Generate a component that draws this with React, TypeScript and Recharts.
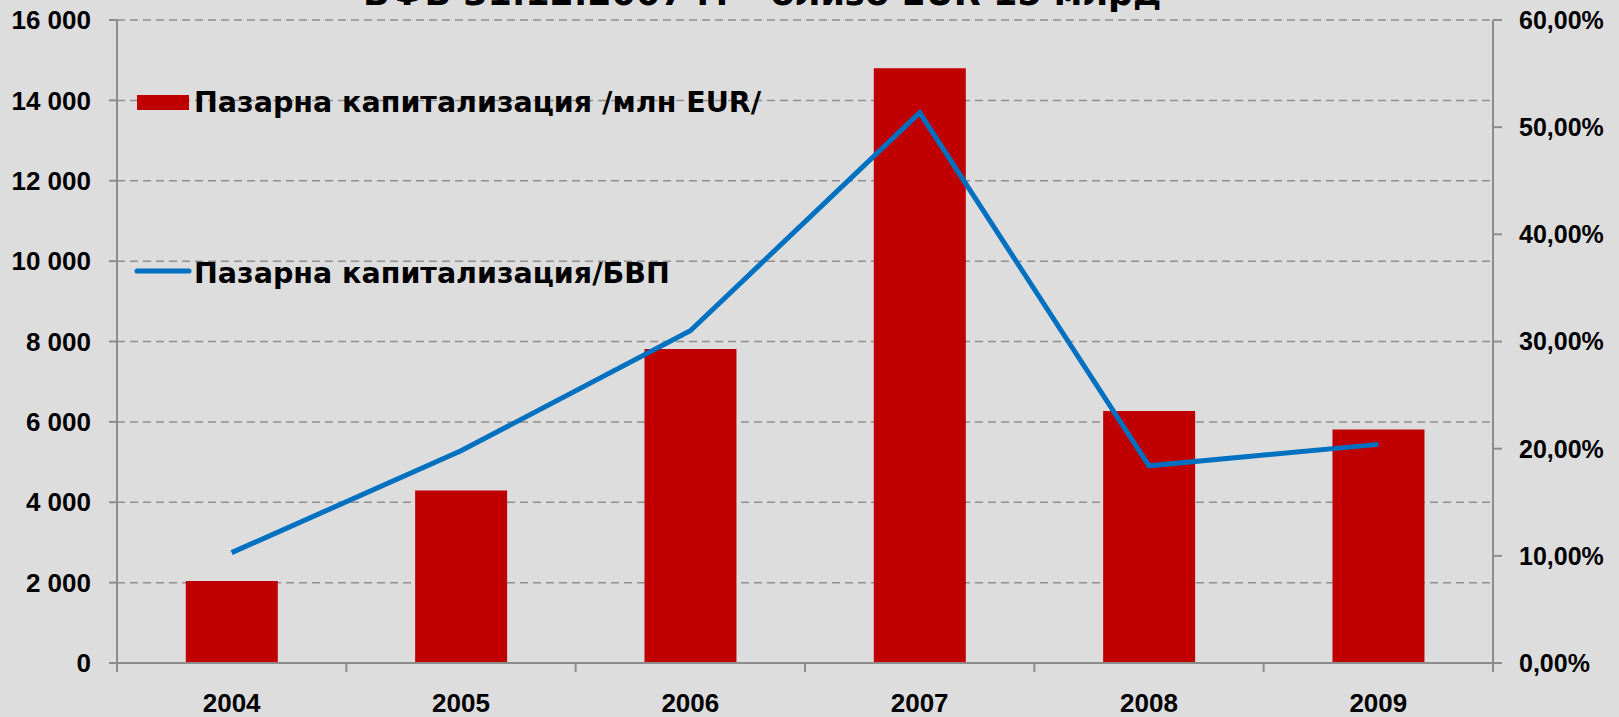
import React from 'react';
import { ComposedChart, Bar, Line, XAxis, YAxis, CartesianGrid } from 'recharts';

const YEARS = ['2004', '2005', '2006', '2007', '2008', '2009'];
const MARKET_CAP = [2040, 4295, 7815, 14800, 6270, 5810];
const CAP_TO_GDP = [0.103, 0.198, 0.31, 0.5135, 0.184, 0.204];
const LEFT_TICKS = [0, 2000, 4000, 6000, 8000, 10000, 12000, 14000, 16000];
const RIGHT_TICKS = [0, 0.1, 0.2, 0.3, 0.4, 0.5, 0.6];

const TITLE = 'БФБ 31.12.2007 г. – близо EUR 15 млрд';
const BAR_NAME = 'Пазарна капитализация /млн EUR/';
const LINE_NAME = 'Пазарна капитализация/БВП';

const RED = '#c00000';
const BLUE = '#0070c0';
const AXIS = '#8c8c8c';
const BG = '#dddddd';

const W = 1619;
const H = 717;
const LEFT_W = 117;
const RIGHT_W = 126;
const BAND = (W - LEFT_W - RIGHT_W) / YEARS.length;

const data = YEARS.map((year, i) => ({ year, cap: MARKET_CAP[i], ratio: CAP_TO_GDP[i] }));

const fmtThousands = (v: number) => String(v).replace(/\B(?=(\d{3})+(?!\d))/g, ' ');
const fmtPct = (v: number) => (v * 100).toFixed(2).replace('.', ',') + '%';

const tickFont = {
  fontSize: 26,
  fontWeight: 700,
  fontFamily: '"Liberation Sans", Arial, sans-serif',
  fill: '#000',
};

// year label + Excel-style tick marks between the categories
const YearTick = (props: any) => {
  const { x, y, payload, index } = props;
  const last = index === YEARS.length - 1;
  const top = 663;
  return (
    <g>
      <line x1={x - BAND / 2} y1={top} x2={x - BAND / 2} y2={top + 9} stroke={AXIS} strokeWidth={2} />
      {last && <line x1={x + BAND / 2} y1={top} x2={x + BAND / 2} y2={top + 9} stroke={AXIS} strokeWidth={2} />}
      <text x={x} y={top + 49} textAnchor="middle" {...tickFont}>
        {payload.value}
      </text>
    </g>
  );
};

const legendFont = {
  fontSize: 28.5,
  fontWeight: 700,
  fontFamily: '"DejaVu Sans", Verdana, sans-serif',
  fill: '#000',
};

export default function App() {
  return (
    <div style={{ position: 'relative', width: W, height: H, background: BG, overflow: 'hidden' }}>
      <style>{'body{margin:0;background:' + BG + ';}'}</style>
      <ComposedChart
        width={W}
        height={H}
        data={data}
        margin={{ top: 20, right: 0, bottom: 0, left: 0 }}
        barCategoryGap="30%"
      >
        <CartesianGrid
          yAxisId="left"
          vertical={false}
          stroke="#8f8f8f"
          strokeWidth={1.5}
          strokeDasharray="8 5"
        />
        <XAxis
          dataKey="year"
          stroke={AXIS}
          strokeWidth={2}
          tickLine={false}
          tickSize={0}
          tickMargin={0}
          height={54}
          tick={<YearTick />}
          interval={0}
        />
        <YAxis
          yAxisId="left"
          domain={[0, 16000]}
          ticks={LEFT_TICKS}
          tickFormatter={fmtThousands}
          width={LEFT_W}
          tickSize={8}
          tickMargin={18}
          stroke={AXIS}
          strokeWidth={2}
          tick={tickFont}
          interval={0}
        />
        <YAxis
          yAxisId="right"
          orientation="right"
          domain={[0, 0.6]}
          ticks={RIGHT_TICKS}
          tickFormatter={fmtPct}
          width={RIGHT_W}
          tickSize={9}
          tickMargin={17}
          stroke={AXIS}
          strokeWidth={2}
          tick={{ ...tickFont, fontSize: 25 }}
          interval={0}
        />
        <Bar yAxisId="left" dataKey="cap" name={BAR_NAME} fill={RED} isAnimationActive={false} />
        <Line
          yAxisId="right"
          dataKey="ratio"
          name={LINE_NAME}
          type="linear"
          stroke={BLUE}
          strokeWidth={5}
          dot={false}
          activeDot={false}
          isAnimationActive={false}
        />
      </ComposedChart>
      <svg width={W} height={H} style={{ position: 'absolute', left: 0, top: 0, pointerEvents: 'none' }}>
        <text x={363} y={5} {...legendFont} fontSize={35}>
          {TITLE}
        </text>
        <rect x={137} y={95} width={52} height={15} fill={RED} />
        <text x={194} y={112} {...legendFont}>
          {BAR_NAME}
        </text>
        <line x1={137} y1={271} x2={189} y2={271} stroke={BLUE} strokeWidth={5} strokeLinecap="round" />
        <text x={194} y={283} {...legendFont}>
          {LINE_NAME}
        </text>
      </svg>
    </div>
  );
}
